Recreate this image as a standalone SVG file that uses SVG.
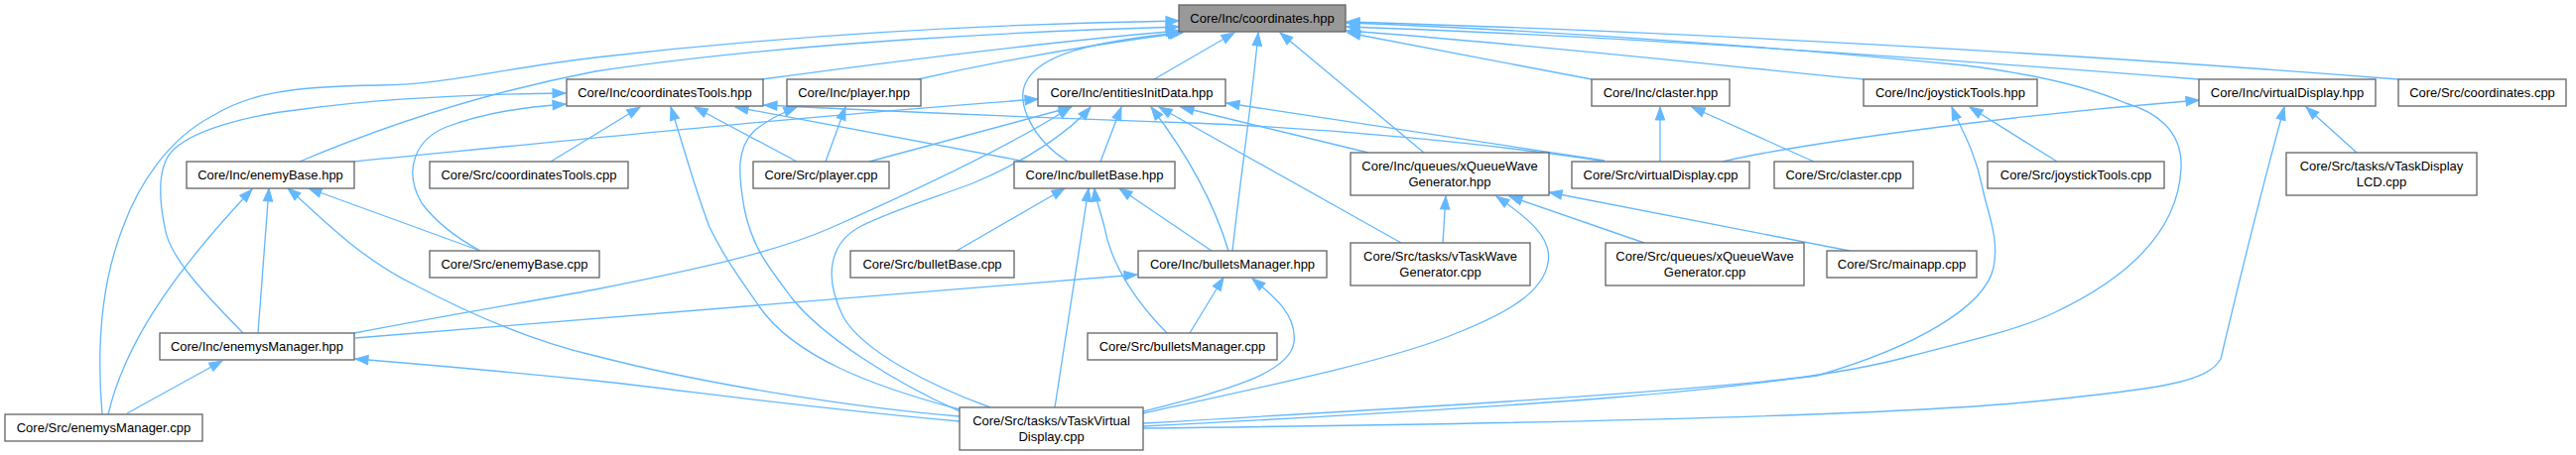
<svg xmlns="http://www.w3.org/2000/svg" width="2596" height="459" viewBox="0 0 2596 459">
<style>
.node rect{fill:#ffffff;stroke:#666666;stroke-width:1.33}
.root rect{fill:#999999;stroke:#666666;stroke-width:1.33}
text{font-family:"Liberation Sans",Arial,sans-serif;font-size:13px;text-anchor:middle;fill:#000000}
.edges path{fill:none;stroke:#63b8ff;stroke-width:1.33;marker-end:url(#arr)}
</style>
<defs>
<marker id="arr" markerUnits="userSpaceOnUse" markerWidth="14" markerHeight="10" refX="13" refY="4.7" orient="auto" overflow="visible">
<path d="M0,0 L13,4.7 L0,9.4 z" fill="#63b8ff" stroke="#63b8ff" stroke-width="1"/>
</marker>
</defs>
<rect width="2596" height="459" fill="#ffffff"/>
<g class="edges">
<path d="M768,80 C900,62 1060,42 1188,31"/>
<path d="M925,80 C1000,63 1100,45 1192,33"/>
<path d="M1163,80 L1244,33"/>
<path d="M302,163 C380,130 480,95 600,72 C800,42 1050,31 1188,27"/>
<path d="M103,418 C98,360 100,290 124,229 C140,185 170,140 214,117 C250,95 290,87 383,86 C450,85 500,70 600,58 C800,35 1000,24 1188,21"/>
<path d="M1076,163 C1040,140 1025,105 1033,85 C1045,55 1100,42 1190,33"/>
<path d="M1242,253 C1250,180 1262,100 1268,33"/>
<path d="M1435,154 L1290,33"/>
<path d="M1604,80 L1358,33"/>
<path d="M1878,80 C1750,68 1550,45 1357,31"/>
<path d="M2216,80 C1900,55 1600,35 1357,27"/>
<path d="M2417,80 C2100,55 1700,32 1357,22"/>
<path d="M1152,430 C1500,412 1800,395 1926,359 C2000,340 2040,330 2069,316 C2150,278 2195,230 2198,170 C2200,130 2170,112 2142,104 C2110,90 2060,76 1980,66 C1800,48 1550,30 1357,23"/>
<path d="M245,336 C210,300 170,260 166,229 C160,200 158,165 176,150 C200,128 260,115 306,110 C380,100 470,95 570,94"/>
<path d="M484,253 C460,240 440,225 425,205 C405,170 420,140 450,128 C490,113 530,108 570,105"/>
<path d="M555,163 L645,108"/>
<path d="M967,413 C880,390 800,360 765,309 C745,280 730,260 715,229 C700,190 688,145 676,108"/>
<path d="M803,163 L700,108"/>
<path d="M1034,163 L741,108"/>
<path d="M1613,162 C1500,145 1350,130 1200,124 C1000,117 850,110 770,106"/>
<path d="M832,163 L852,108"/>
<path d="M967,415 C900,385 830,340 799,302 C775,270 758,250 750,210 C744,175 742,150 760,132 C775,120 790,113 803,108"/>
<path d="M356,163 C550,144 800,118 1046,100"/>
<path d="M876,163 L1080,108"/>
<path d="M357,336 C450,318 530,305 600,292 C700,272 780,255 837,230 C950,180 1030,140 1079,108"/>
<path d="M998,411 C940,390 870,355 850,320 C830,280 835,245 868,228 C900,212 940,200 980,185 C1040,160 1080,130 1099,108"/>
<path d="M1109,163 L1130,108"/>
<path d="M1238,253 C1225,210 1200,160 1160,108"/>
<path d="M1412,245 L1168,108"/>
<path d="M1379,154 L1190,108"/>
<path d="M1617,162 L1236,104"/>
<path d="M484,253 L311,190"/>
<path d="M260,336 L271,190"/>
<path d="M109,418 C125,350 170,280 254,191"/>
<path d="M967,420 C870,412 720,390 600,359 C540,345 480,320 421,289 C360,260 320,215 290,190"/>
<path d="M964,253 L1073,190"/>
<path d="M1221,253 L1128,190"/>
<path d="M1176,336 C1150,310 1120,270 1113,229 C1108,210 1104,200 1103,190"/>
<path d="M1063,411 L1097,190"/>
<path d="M358,341 L1146,277"/>
<path d="M1199,336 L1233,280"/>
<path d="M1152,415 C1230,395 1300,378 1304,345 C1307,318 1285,300 1262,281"/>
<path d="M128,417 L224,364"/>
<path d="M967,425 C800,410 700,395 600,384 C500,374 420,367 358,362"/>
<path d="M1454,245 L1457,198"/>
<path d="M1657,245 L1521,198"/>
<path d="M1864,253 L1561,194"/>
<path d="M1152,417 C1250,395 1400,365 1468,336 C1520,315 1555,295 1560,265 C1565,240 1540,220 1508,198"/>
<path d="M1673,163 L1673,108"/>
<path d="M1828,163 L1705,108"/>
<path d="M2073,163 L1985,108"/>
<path d="M1152,427 C1450,410 1700,395 1831,379 C1930,350 2000,310 2009,270 C2015,240 2003,215 1998,190 C1990,150 1975,128 1967,108"/>
<path d="M1736,163 C1800,148 2000,118 2216,101"/>
<path d="M2375,154 L2324,108"/>
<path d="M1152,432 C1500,428 1900,420 2050,405 C2180,392 2225,385 2238,362 C2255,290 2285,170 2302,108"/>
</g>
<g id="n_root" class="root"><rect x="1188" y="5" width="168" height="27"/><text x="1272" y="23">Core/Inc/coordinates.hpp</text></g>
<g id="n_coordinatesTools_hpp" class="node"><rect x="571" y="80" width="198" height="27"/><text x="670" y="98">Core/Inc/coordinatesTools.hpp</text></g>
<g id="n_player_hpp" class="node"><rect x="793" y="80" width="135" height="27"/><text x="860.5" y="98">Core/Inc/player.hpp</text></g>
<g id="n_entitiesInitData_hpp" class="node"><rect x="1046" y="80" width="189" height="27"/><text x="1140.5" y="98">Core/Inc/entitiesInitData.hpp</text></g>
<g id="n_claster_hpp" class="node"><rect x="1604" y="80" width="139" height="27"/><text x="1673.5" y="98">Core/Inc/claster.hpp</text></g>
<g id="n_joystickTools_hpp" class="node"><rect x="1878" y="80" width="175" height="27"/><text x="1965.5" y="98">Core/Inc/joystickTools.hpp</text></g>
<g id="n_virtualDisplay_hpp" class="node"><rect x="2216" y="80" width="178" height="27"/><text x="2305" y="98">Core/Inc/virtualDisplay.hpp</text></g>
<g id="n_coordinates_cpp" class="node"><rect x="2417" y="80" width="169" height="27"/><text x="2501.5" y="98">Core/Src/coordinates.cpp</text></g>
<g id="n_enemyBase_hpp" class="node"><rect x="188" y="163" width="169" height="27"/><text x="272.5" y="181">Core/Inc/enemyBase.hpp</text></g>
<g id="n_coordinatesTools_cpp" class="node"><rect x="433" y="163" width="200" height="27"/><text x="533" y="181">Core/Src/coordinatesTools.cpp</text></g>
<g id="n_player_cpp" class="node"><rect x="759" y="163" width="137" height="27"/><text x="827.5" y="181">Core/Src/player.cpp</text></g>
<g id="n_bulletBase_hpp" class="node"><rect x="1022" y="163" width="162" height="27"/><text x="1103" y="181">Core/Inc/bulletBase.hpp</text></g>
<g id="n_xQueueWaveGenerator_hpp" class="node"><rect x="1361" y="154" width="200" height="43"/><text x="1461" y="172">Core/Inc/queues/xQueueWave</text><text x="1461" y="188">Generator.hpp</text></g>
<g id="n_virtualDisplay_cpp" class="node"><rect x="1584" y="163" width="179" height="27"/><text x="1673.5" y="181">Core/Src/virtualDisplay.cpp</text></g>
<g id="n_claster_cpp" class="node"><rect x="1788" y="163" width="140" height="27"/><text x="1858" y="181">Core/Src/claster.cpp</text></g>
<g id="n_joystickTools_cpp" class="node"><rect x="2003" y="163" width="178" height="27"/><text x="2092" y="181">Core/Src/joystickTools.cpp</text></g>
<g id="n_vTaskDisplayLCD_cpp" class="node"><rect x="2304" y="154" width="192" height="43"/><text x="2400" y="172">Core/Src/tasks/vTaskDisplay</text><text x="2400" y="188">LCD.cpp</text></g>
<g id="n_enemyBase_cpp" class="node"><rect x="433" y="253" width="171" height="27"/><text x="518.5" y="271">Core/Src/enemyBase.cpp</text></g>
<g id="n_bulletBase_cpp" class="node"><rect x="857" y="253" width="165" height="27"/><text x="939.5" y="271">Core/Src/bulletBase.cpp</text></g>
<g id="n_bulletsManager_hpp" class="node"><rect x="1147" y="253" width="190" height="27"/><text x="1242" y="271">Core/Inc/bulletsManager.hpp</text></g>
<g id="n_vTaskWaveGenerator_cpp" class="node"><rect x="1361" y="245" width="181" height="43"/><text x="1451.5" y="263">Core/Src/tasks/vTaskWave</text><text x="1451.5" y="279">Generator.cpp</text></g>
<g id="n_xQueueWaveGenerator_cpp" class="node"><rect x="1618" y="245" width="200" height="43"/><text x="1718" y="263">Core/Src/queues/xQueueWave</text><text x="1718" y="279">Generator.cpp</text></g>
<g id="n_mainapp_cpp" class="node"><rect x="1841" y="253" width="151" height="27"/><text x="1916.5" y="271">Core/Src/mainapp.cpp</text></g>
<g id="n_enemysManager_hpp" class="node"><rect x="161" y="336" width="196" height="27"/><text x="259" y="354">Core/Inc/enemysManager.hpp</text></g>
<g id="n_bulletsManager_cpp" class="node"><rect x="1096" y="336" width="191" height="27"/><text x="1191.5" y="354">Core/Src/bulletsManager.cpp</text></g>
<g id="n_enemysManager_cpp" class="node"><rect x="5" y="418" width="199" height="27"/><text x="104.5" y="436">Core/Src/enemysManager.cpp</text></g>
<g id="n_vTaskVirtualDisplay_cpp" class="node"><rect x="967" y="411" width="185" height="43"/><text x="1059.5" y="429">Core/Src/tasks/vTaskVirtual</text><text x="1059.5" y="445">Display.cpp</text></g>
</svg>
